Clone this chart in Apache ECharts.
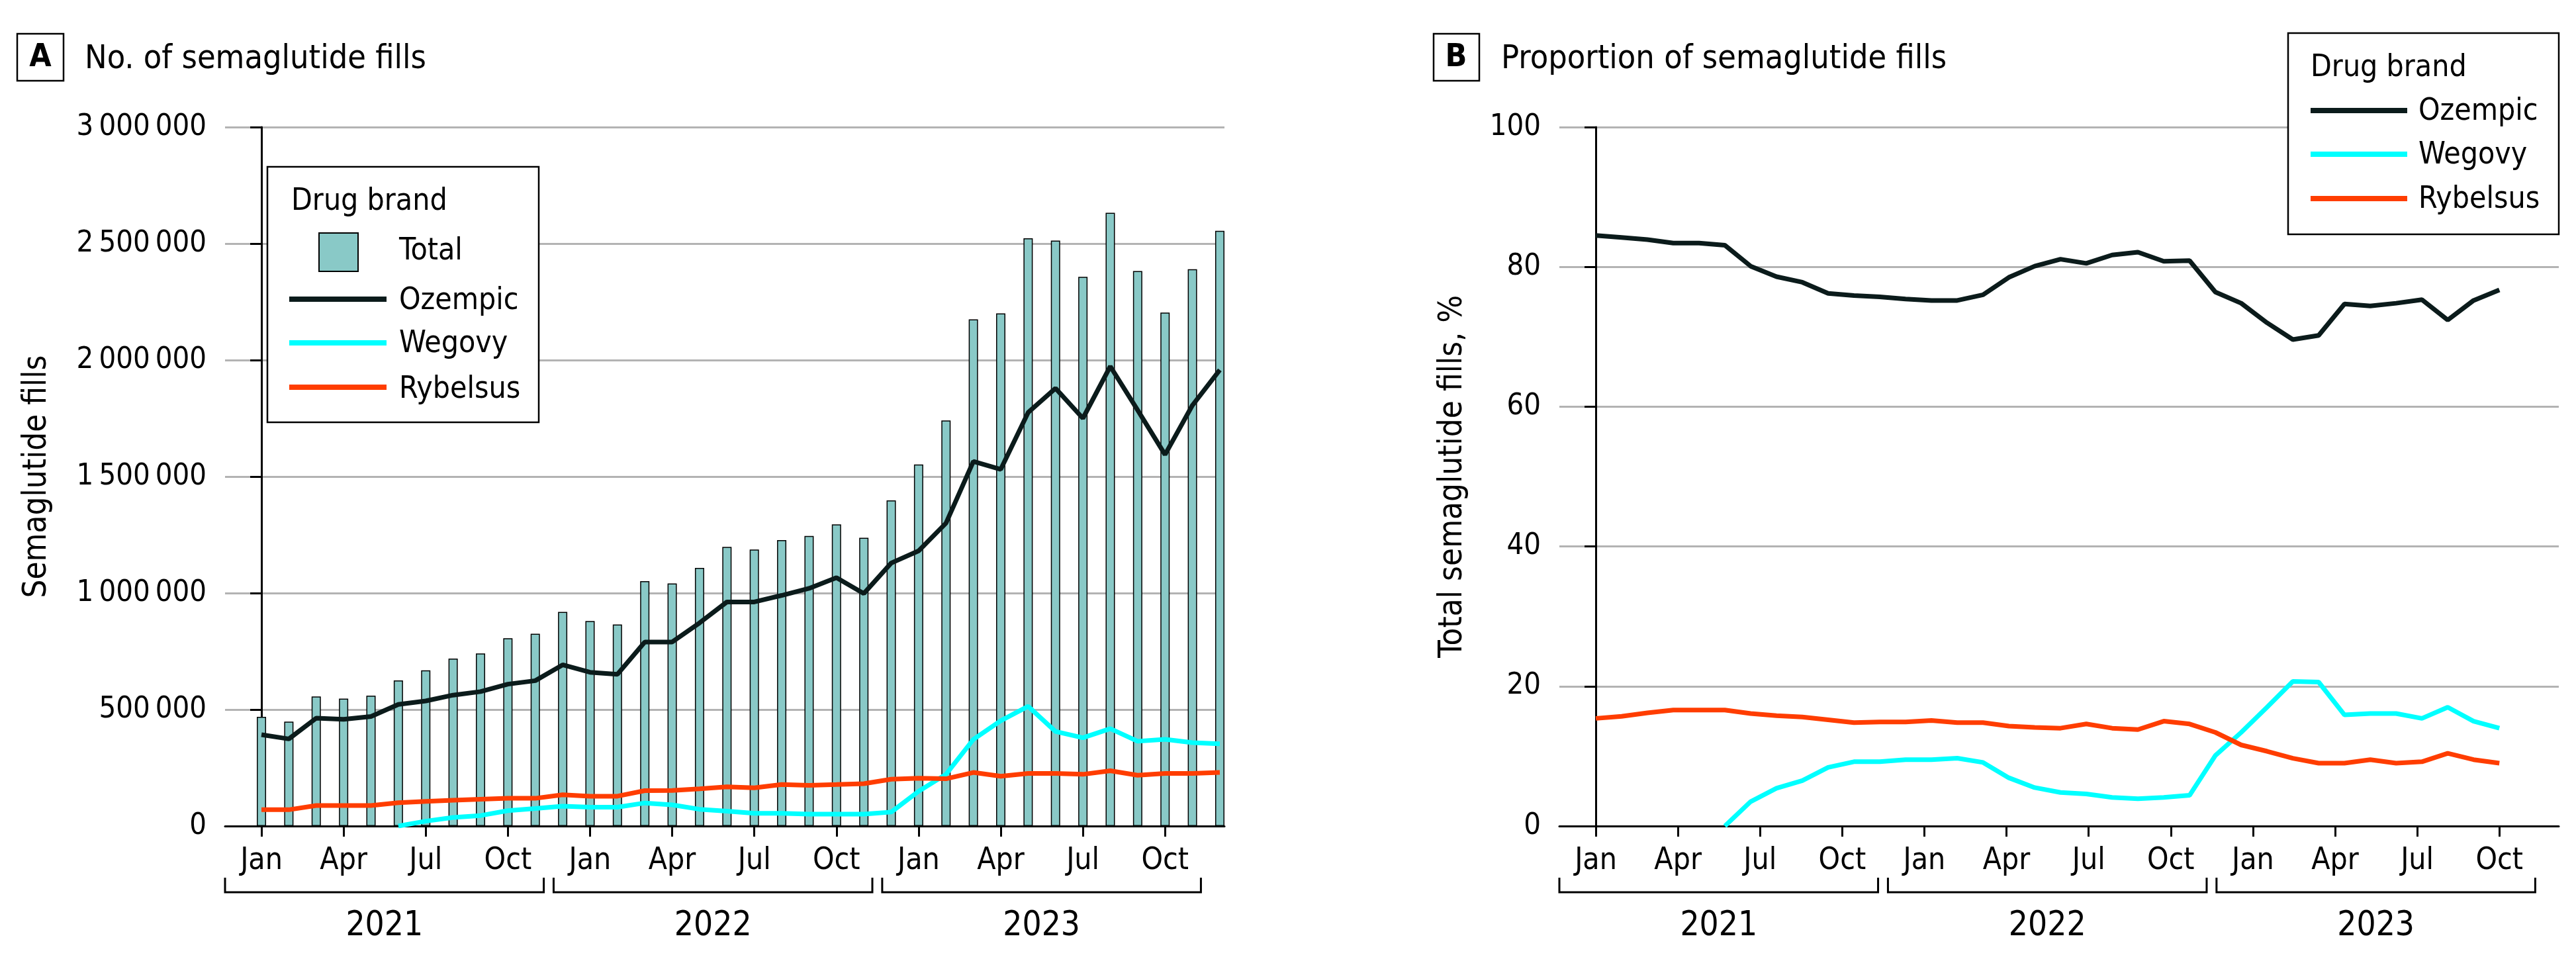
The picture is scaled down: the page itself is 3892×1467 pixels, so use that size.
<!DOCTYPE html>
<html>
<head>
<meta charset="utf-8">
<script src="https://cdn.jsdelivr.net/npm/echarts@6.0.0/dist/echarts.min.js"></script>
<style>
  html, body { margin: 0; padding: 0; background: #fff; }
  #chart { width: 3892px; height: 1467px; }
</style>
</head>
<body>
<div id="chart"></div>
<script>
// ---------------- DATA ----------------
// monthly points, Jan 2021 .. Dec 2023 (index 0..35)
const years = ['2021', '2022', '2023'];
const tickMonths = ['Jan', 'Apr', 'Jul', 'Oct'];
const brands = ['Total', 'Ozempic', 'Wegovy', 'Rybelsus'];

// Panel A: number of fills
const totalFills = [
  469000, 448000, 556000, 547000, 560000, 625000, 668000, 719000, 741000, 806000, 825000, 919000,
  880000, 865000, 1051000, 1041000, 1108000, 1198000, 1187000, 1227000, 1245000, 1295000, 1237000, 1398000,
  1552000, 1741000, 2175000, 2200000, 2523000, 2513000, 2357000, 2632000, 2382000, 2204000, 2390000, 2555000
];
const ozempicFills = [
  392000, 374000, 463000, 458000, 470000, 522000, 537000, 562000, 577000, 609000, 624000, 692000,
  660000, 651000, 790000, 790000, 872000, 962000, 962000, 990000, 1020000, 1066000, 998000, 1129000,
  1181000, 1300000, 1565000, 1531000, 1775000, 1879000, 1750000, 1973000, 1785000, 1594000, 1806000, 1958000
];
const wegovyFills = [
  null, null, null, null, null, 0, 21000, 37000, 45000, 66000, 75000, 85000,
  81000, 81000, 99000, 91000, 72000, 64000, 55000, 55000, 51000, 51000, 51000, 60000,
  149000, 222000, 372000, 452000, 514000, 406000, 379000, 418000, 364000, 372000, 358000, 353000
];
const rybelsusFills = [
  70000, 70000, 88000, 88000, 88000, 100000, 106000, 111000, 115000, 119000, 119000, 134000,
  128000, 128000, 152000, 153000, 160000, 168000, 164000, 178000, 175000, 178000, 182000, 201000,
  205000, 203000, 230000, 214000, 226000, 226000, 222000, 237000, 218000, 226000, 226000, 230000
];

// Panel B: proportion of fills, %
const ozempicShare = [
  84.5, 84.2, 83.9, 83.4, 83.4, 83.1, 80.1, 78.6, 77.8, 76.2, 75.9, 75.7,
  75.4, 75.2, 75.2, 76.0, 78.5, 80.1, 81.1, 80.5, 81.7, 82.1, 80.8, 80.9,
  76.4, 74.8, 72.0, 69.6, 70.2, 74.7, 74.4, 74.8, 75.3, 72.4, 75.2, 76.7
];
const wegovyShare = [
  null, null, null, null, null, 0, 3.5, 5.4, 6.5, 8.4, 9.2, 9.2,
  9.5, 9.5, 9.7, 9.1, 6.9, 5.5, 4.8, 4.6, 4.1, 3.9, 4.1, 4.4,
  10.1, 13.4, 17.0, 20.7, 20.6, 15.9, 16.1, 16.1, 15.4, 17.0, 15.0, 14.0
];
const rybelsusShare = [
  15.4, 15.7, 16.2, 16.6, 16.6, 16.6, 16.1, 15.8, 15.6, 15.2, 14.8, 14.9,
  14.9, 15.1, 14.8, 14.8, 14.3, 14.1, 14.0, 14.6, 14.0, 13.8, 15.0, 14.6,
  13.4, 11.6, 10.7, 9.7, 9.0, 9.0, 9.5, 9.0, 9.2, 10.4, 9.5, 9.0
];

// ---------------- STYLE ----------------
const FONT = '"DejaVu Sans Condensed", "DejaVu Sans", sans-serif';
const C_TOTAL = '#89C9C7';
const C_OZ = '#0B1B1B';
const C_WE = '#00FFFF';
const C_RY = '#FF3D00';
const C_GRID = '#B3B3B3';
// In panel B of the original, the 36 monthly points are spread over the Jan 2021 - Oct 2023 ticks.
const SHARE_X_STEP = 33 / 35;

const X_MIN = -1.33, X_MAX = 35.17;
const tickValues = [0, 3, 6, 9, 12, 15, 18, 21, 24, 27, 30, 33];

function pairs(arr, step) {
  return arr.map((v, i) => [i * step, v]);
}
function thinSep(v) {
  return String(v).replace(/\B(?=(\d{3})+(?!\d))/g, '\u2009');
}

function xAxis(gridIndex) {
  return {
    type: 'value', gridIndex, min: X_MIN, max: X_MAX,
    axisLine: { show: true, onZero: false, lineStyle: { color: '#000', width: 3 } },
    axisTick: { show: true, length: 16, inside: false, customValues: tickValues, lineStyle: { color: '#000', width: 3 } },
    axisLabel: {
      customValues: tickValues, margin: 30, color: '#000', fontFamily: FONT, fontSize: 46,
      formatter: v => tickMonths[Math.round(v / 3) % 4]
    },
    splitLine: { show: false }
  };
}
function yAxis(gridIndex, max, interval, fmt) {
  return {
    type: 'value', gridIndex, min: 0, max, interval,
    axisLine: { show: true, lineStyle: { color: '#000', width: 3 } },
    axisTick: { show: true, length: 17, lineStyle: { color: '#000', width: 3 } },
    axisLabel: { margin: 28, color: '#000', fontFamily: FONT, fontSize: 45, formatter: fmt },
    splitLine: { show: true, lineStyle: { color: C_GRID, width: 3 } }
  };
}
function lineSeries(name, data, color, xi, yi) {
  return {
    type: 'line', name, data, xAxisIndex: xi, yAxisIndex: yi,
    symbol: 'none', connectNulls: false, z: 5,
    lineStyle: { color, width: 7 }, itemStyle: { color },
    animation: false
  };
}

const option = {
  animation: false,
  backgroundColor: '#fff',
  grid: [
    { left: 340, top: 192, width: 1510, height: 1056 },
    { left: 2356, top: 192, width: 1510, height: 1056 }
  ],
  xAxis: [xAxis(0), xAxis(1)],
  yAxis: [
    yAxis(0, 3000000, 500000, v => thinSep(v)),
    yAxis(1, 100, 20, v => String(v))
  ],
  series: [
    {
      type: 'bar', name: brands[0], data: pairs(totalFills, 1), xAxisIndex: 0, yAxisIndex: 0,
      barWidth: 14, z: 2,
      itemStyle: { color: C_TOTAL, borderColor: '#000', borderWidth: 1.5 }
    },
    lineSeries(brands[1], pairs(ozempicFills, 1), C_OZ, 0, 0),
    lineSeries(brands[2], pairs(wegovyFills, 1), C_WE, 0, 0),
    lineSeries(brands[3], pairs(rybelsusFills, 1), C_RY, 0, 0),
    lineSeries(brands[1], pairs(ozempicShare, SHARE_X_STEP), C_OZ, 1, 1),
    lineSeries(brands[2], pairs(wegovyShare, SHARE_X_STEP), C_WE, 1, 1),
    lineSeries(brands[3], pairs(rybelsusShare, SHARE_X_STEP), C_RY, 1, 1)
  ]
};

const chart = echarts.init(document.getElementById('chart'), null, { renderer: 'canvas' });
chart.setOption(option);

// ---------------- ANNOTATIONS ----------------
function txt(text, x, y, size, opts) {
  return Object.assign({
    type: 'text', x, y, z: 50,
    style: Object.assign({ text, fill: '#000', fontFamily: FONT, fontSize: size, align: 'left', verticalAlign: 'middle' }, (opts && opts.style) || {})
  }, (opts && opts.el) || {});
}
function rect(x, y, w, h, fill, stroke, lw) {
  return { type: 'rect', z: 40, shape: { x, y, width: w, height: h }, style: { fill, stroke, lineWidth: lw } };
}
function seg(x1, y1, x2, y2, color, w) {
  return { type: 'line', z: 45, shape: { x1, y1, x2, y2 }, style: { stroke: color, lineWidth: w } };
}

const g = [];
// panel headers
g.push(rect(26, 51, 70, 71, 'none', '#000', 2.5));
g.push(txt('A', 61, 88, 48, { style: { align: 'center', fontWeight: 'bold' } }));
g.push(txt('No. of semaglutide fills', 128, 90, 50));
g.push(rect(2166, 51, 69, 71, 'none', '#000', 2.5));
g.push(txt('B', 2200, 88, 48, { style: { align: 'center', fontWeight: 'bold' } }));
g.push(txt('Proportion of semaglutide fills', 2268, 90, 50));

// axis titles
g.push(txt('Semaglutide fills', 56, 720, 49, { style: { align: 'center' }, el: { rotation: Math.PI / 2 } }));
g.push(txt('Total semaglutide fills, %', 2195, 720, 49, { style: { align: 'center' }, el: { rotation: Math.PI / 2 } }));

// legend A
g.push(rect(404, 252, 410, 386, '#fff', '#000', 2.5));
g.push(txt('Drug brand', 440, 305, 46));
g.push(rect(482, 352, 59, 58, C_TOTAL, '#000', 2));
g.push(txt(brands[0], 603, 380, 46));
g.push(seg(437, 452, 584, 452, C_OZ, 8));
g.push(txt(brands[1], 603, 455, 46));
g.push(seg(437, 518, 584, 518, C_WE, 8));
g.push(txt(brands[2], 603, 520, 46));
g.push(seg(437, 585, 584, 585, C_RY, 8));
g.push(txt(brands[3], 603, 589, 46));

// legend B
g.push(rect(3457, 50, 409, 304, '#fff', '#000', 2.5));
g.push(txt('Drug brand', 3491, 103, 46));
g.push(seg(3491, 167, 3637, 167, C_OZ, 8));
g.push(txt(brands[1], 3654, 169, 46));
g.push(seg(3491, 233, 3637, 233, C_WE, 8));
g.push(txt(brands[2], 3654, 235, 46));
g.push(seg(3491, 300, 3637, 300, C_RY, 8));
g.push(txt(brands[3], 3654, 302, 46));

// year brackets under both x axes
const BR_TOP = 1326, BR_BOT = 1348;
[0, 1].forEach(xi => {
  years.forEach((yr, k) => {
    const x1 = chart.convertToPixel({ xAxisIndex: xi }, 12 * k - 1.33);
    const x2 = chart.convertToPixel({ xAxisIndex: xi }, 12 * k + 10.31);
    const xc = chart.convertToPixel({ xAxisIndex: xi }, 12 * k + 4.49);
    g.push({
      type: 'polyline', z: 45,
      shape: { points: [[x1, BR_TOP], [x1, BR_BOT], [x2, BR_BOT], [x2, BR_TOP]] },
      style: { stroke: '#000', lineWidth: 3, fill: 'none' }
    });
    g.push(txt(yr, xc, 1400, 51, { style: { align: 'center' } }));
  });
});

chart.setOption({ graphic: { elements: g } });
</script>
</body>
</html>
